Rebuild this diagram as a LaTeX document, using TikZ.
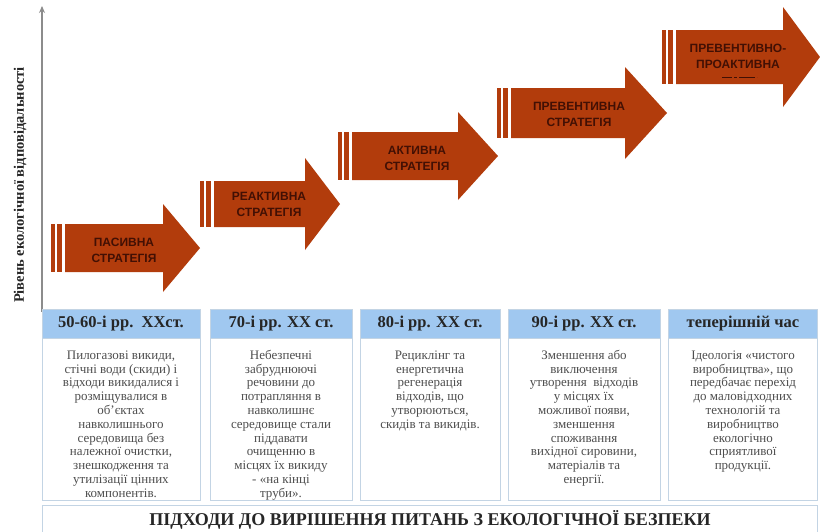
\documentclass[tikz,border=0pt]{standalone}
\usepackage{fontspec}
\setmainfont{Liberation Serif}
\newfontfamily\sansb{Liberation Sans}
\usetikzlibrary{arrows.meta}
\definecolor{rust}{RGB}{178,60,12}
\definecolor{rusttext}{RGB}{66,16,4}
\definecolor{hdr}{RGB}{160,200,240}
\definecolor{bord}{RGB}{195,212,228}
\definecolor{bodytext}{RGB}{78,78,78}
\definecolor{axisgray}{RGB}{140,140,140}
\newcommand\fstrut{\rule{0pt}{10pt}}
\begin{document}
\begin{tikzpicture}[x=1pt,y=-1pt,
  arrowtext/.style={align=center,text=rusttext,inner sep=0pt,
    font=\sansb\bfseries\fontsize{12}{16}\selectfont},
  hdrbox/.style={draw=bord,fill=hdr,line width=0.8pt},
  bodybox/.style={draw=bord,fill=white,line width=0.8pt},
  hdrtext/.style={inner sep=0pt,font=\bfseries\fontsize{16.5}{18}\selectfont,text=black!85},
  bodytxt/.style={anchor=north,align=center,inner sep=0pt,text=bodytext,
    font=\fontsize{13}{13.8}\selectfont},
  axislabel/.style={rotate=90,inner sep=0pt,font=\bfseries\fontsize{14.5}{16}\selectfont,text=black!85},
  bottomtext/.style={inner sep=0pt,font=\bfseries\fontsize{18}{20}\selectfont,text=black!85}]
\useasboundingbox (0,0) rectangle (820,531);
\fill[white] (0,0) rectangle (820,531);

% axis
\coordinate (axbot) at (42,312);
\coordinate (axtop) at (42,6);
\draw[axisgray,line width=1.4pt,-{Stealth[length=7pt,width=6pt]}] (axbot) -- (axtop);
\node[axislabel] (axlab) at (20,185) {Рівень екологічної відповідальності};

% strategy arrows: stripe start / head start / tip / centre / body half / head half
\foreach \s/\h/\t/\c/\bh/\hh in {51/163/200/248/24/44, 200/305/340/204/23/46,
  338/458/498/156/24/44, 497/625/667/113/25/46, 662/783/820/57/27/50}{
  \fill[rust] ({\s},{\c-\bh}) rectangle ({\s+4},{\c+\bh});
  \fill[rust] ({\s+6.3},{\c-\bh}) rectangle ({\s+10.7},{\c+\bh});
  \fill[rust] ({\s+14},{\c-\bh}) -- ({\h},{\c-\bh}) -- ({\h},{\c-\hh}) -- ({\t},{\c})
    -- ({\h},{\c+\hh}) -- ({\h},{\c+\bh}) -- ({\s+14},{\c+\bh}) -- cycle;
}
\node[arrowtext] (s1) at (124,250) {ПАСИВНА\\СТРАТЕГІЯ};
\node[arrowtext] (s2) at (269,204) {РЕАКТИВНА\\СТРАТЕГІЯ};
\node[arrowtext] (s3) at (417,158) {АКТИВНА\\СТРАТЕГІЯ};
\node[arrowtext] (s4) at (579,114) {ПРЕВЕНТИВНА\\СТРАТЕГІЯ};
\node[arrowtext] (s5) at (738,56) {ПРЕВЕНТИВНО-\\ПРОАКТИВНА};
\draw[rusttext,line width=1pt,dash pattern=on 10pt off 2pt on 3pt off 2pt on 16pt off 2pt] (722,77) -- (757,77);

% columns
\foreach \a/\b in {42/200, 210/352, 360/500, 508/660, 668/817}{
  \filldraw[bodybox] (\a,338) rectangle (\b,500);
  \filldraw[hdrbox] (\a,309) rectangle (\b,338);
}
\node[hdrtext] (h1) at (121,324) {50-60-і рр.\ \ XXст.};
\node[hdrtext] (h2) at (281,324) {70-і рр. XX ст.};
\node[hdrtext] (h3) at (430,324) {80-і рр. XX ст.};
\node[hdrtext] (h4) at (584,324) {90-і рр. XX ст.};
\node[hdrtext] (h5) at (743,324) {теперішній час};

\node[bodytxt] (b1) at (121,349) {\fstrut Пилогазові викиди,\\стічні води (скиди) і\\відходи викидалися і\\розміщувалися в\\об'єктах\\навколишнього\\середовища без\\належної очистки,\\знешкодження та\\утилізації цінних\\компонентів.};
\node[bodytxt] (b2) at (281,349) {\fstrut Небезпечні\\забруднюючі\\речовини до\\потрапляння в\\навколишнє\\середовище стали\\піддавати\\очищенню в\\місцях їх викиду\\- «на кінці\\труби».};
\node[bodytxt] (b3) at (430,349) {\fstrut Рециклінг та\\енергетична\\регенерація\\відходів, що\\утворюються,\\скидів та викидів.};
\node[bodytxt] (b4) at (584,349) {\fstrut Зменшення або\\виключення\\утворення\ \ відходів\\у місцях їх\\можливої появи,\\зменшення\\споживання\\вихідної сировини,\\матеріалів та\\енергії.};
\node[bodytxt] (b5) at (743,349) {\fstrut Ідеологія «чистого\\виробництва», що\\передбачає перехід\\до маловідходних\\технологій та\\виробництво\\екологічно\\сприятливої\\продукції.};

% bottom band
\filldraw[bodybox] (42,505) rectangle (817,533);
\node[bottomtext] (bt) at (430,520) {ПІДХОДИ ДО ВИРІШЕННЯ ПИТАНЬ З ЕКОЛОГІЧНОЇ БЕЗПЕКИ};
\end{tikzpicture}
\end{document}
